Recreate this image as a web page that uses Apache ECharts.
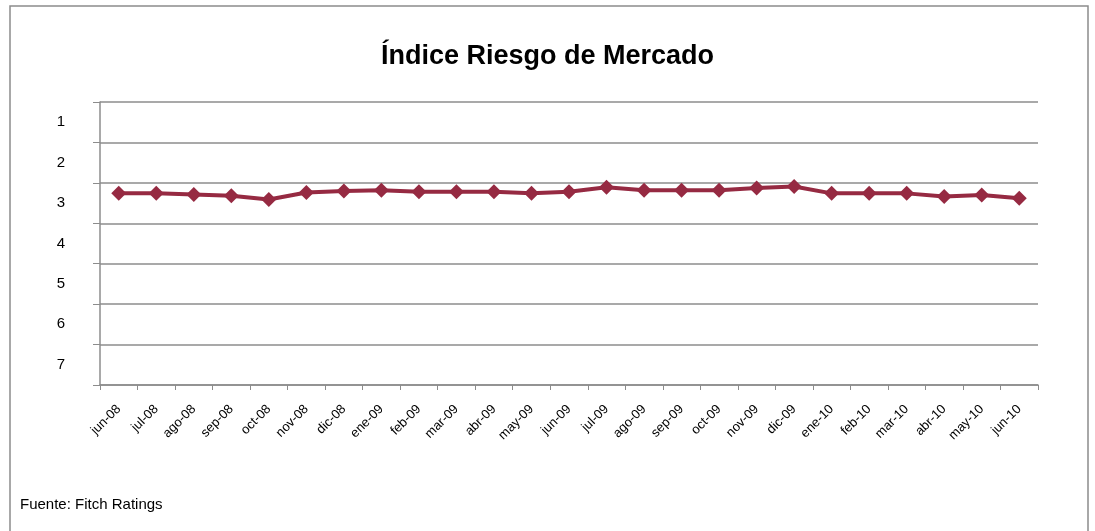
<!DOCTYPE html>
<html>
<head>
<meta charset="utf-8">
<script src="https://cdn.jsdelivr.net/npm/echarts@6/dist/echarts.min.js"></script>
<style>
  html, body { margin: 0; padding: 0; background: #fff; }
  #main { width: 1095px; height: 531px; }
</style>
</head>
<body>
<div id="main"></div>
<script>
// meses (eje x)
var meses = ['jun-08', 'jul-08', 'ago-08', 'sep-08', 'oct-08', 'nov-08', 'dic-08', 'ene-09',
  'feb-09', 'mar-09', 'abr-09', 'may-09', 'jun-09', 'jul-09', 'ago-09', 'sep-09', 'oct-09',
  'nov-09', 'dic-09', 'ene-10', 'feb-10', 'mar-10', 'abr-10', 'may-10', 'jun-10'];

// índice
var indice = [2.76, 2.76, 2.79, 2.82, 2.91, 2.74, 2.70, 2.68, 2.72, 2.72, 2.72, 2.76, 2.72,
  2.61, 2.68, 2.68, 2.68, 2.63, 2.59, 2.76, 2.76, 2.76, 2.84, 2.80, 2.88];

// etiquetas del eje y
var niveles = ['1', '2', '3', '4', '5', '6', '7'];

var myChart = echarts.init(document.getElementById('main'));

var gris = '#8c8c8c';
var fuente = 'Liberation Sans, Arial, sans-serif';

var option = {
  backgroundColor: '#fff',
  textStyle: { fontFamily: fuente },
  title: {
    text: 'Índice Riesgo de Mercado',
    left: 'center',
    top: 38,
    textStyle: { fontSize: 27, fontWeight: 'bold', color: '#000', fontFamily: fuente }
  },
  graphic: [
    {
      type: 'rect',
      shape: { x: 10, y: 6, width: 1078, height: 540 },
      style: { fill: 'none', stroke: gris, lineWidth: 1.5 },
      silent: true
    },
    {
      type: 'text',
      left: 20,
      top: 497,
      style: { text: 'Fuente: Fitch Ratings', fill: '#000', fontSize: 15, fontFamily: fuente }
    }
  ],
  grid: { left: 100, right: 57, top: 102, bottom: 146 },
  xAxis: {
    type: 'category',
    data: meses,
    boundaryGap: true,
    axisLine: { lineStyle: { color: gris, width: 1.5 } },
    axisTick: { show: true, length: 5, lineStyle: { color: gris } },
    axisLabel: { rotate: 45, color: '#000', fontSize: 13, margin: 22, interval: 0 }
  },
  yAxis: [
    {
      type: 'value',
      inverse: true,
      min: 0.5,
      max: 7.5,
      interval: 1,
      axisLine: { show: true, lineStyle: { color: gris, width: 1.5 } },
      axisTick: { show: true, inside: false, length: 7, lineStyle: { color: gris } },
      axisLabel: { show: false },
      splitLine: { show: true, lineStyle: { color: gris, width: 1.5 } }
    },
    {
      type: 'category',
      data: niveles,
      inverse: true,
      position: 'left',
      axisLine: { show: false },
      axisTick: { show: false },
      splitLine: { show: false },
      axisLabel: { color: '#000', fontSize: 15, margin: 35 }
    }
  ],
  series: [
    {
      name: 'Índice',
      type: 'line',
      yAxisIndex: 0,
      data: indice,
      symbol: 'diamond',
      symbolSize: 15,
      lineStyle: { color: '#962a42', width: 4 },
      itemStyle: { color: '#962a42' }
    }
  ]
};

myChart.setOption(option);
</script>
</body>
</html>
